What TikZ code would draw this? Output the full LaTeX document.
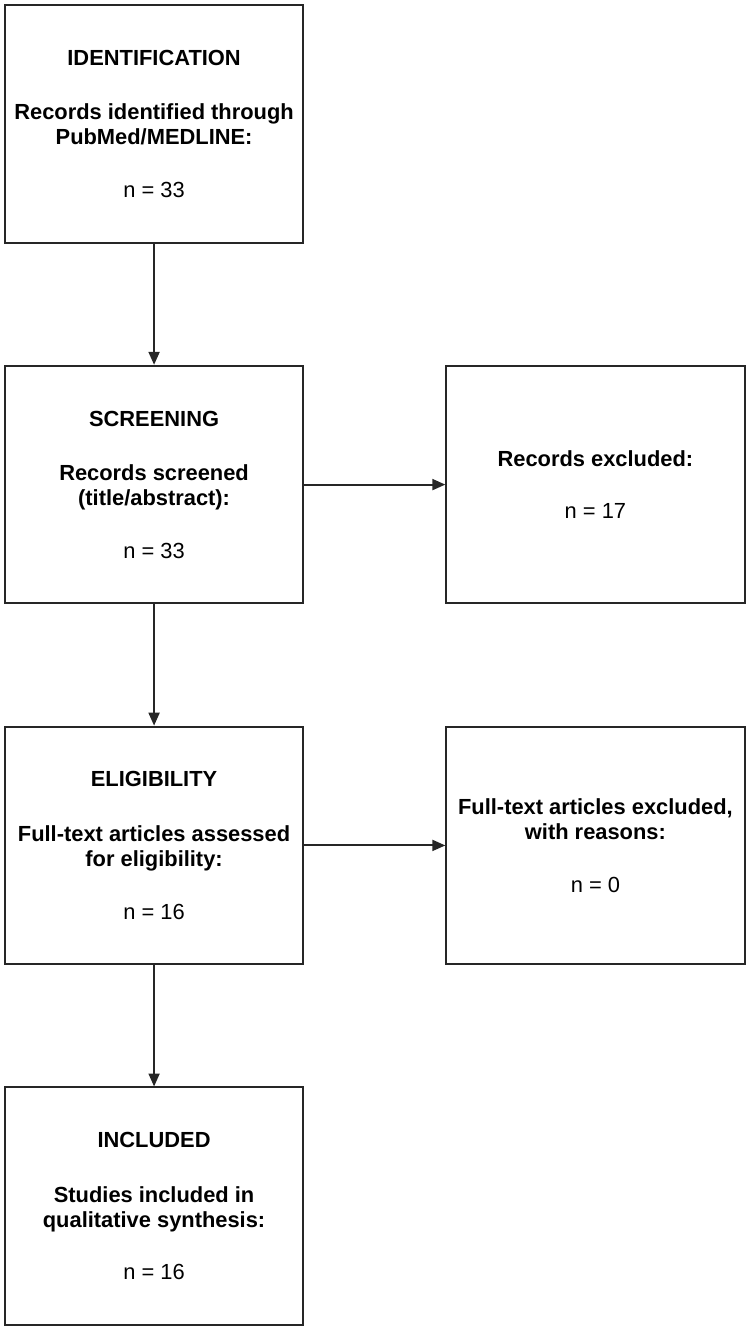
\documentclass[tikz,border=0pt]{standalone}
\usepackage{fontspec}
\setmainfont{Liberation Sans}
\usepackage{tikz}
\usetikzlibrary{arrows.meta, positioning, calc}

\begin{document}
\begin{tikzpicture}[
  node distance=122pt and 142pt,
  pbox/.style={rectangle, draw=black!85, line width=2pt, fill=white,
             minimum width=300pt, minimum height=239pt, inner sep=0pt,
             font=\fontsize{22}{25}\selectfont\bfseries, align=center},
  arr/.style={-{Triangle[length=13pt, width=11pt]}, line width=2pt, color=black!85}
]
\node[pbox] (ident) {IDENTIFICATION\\[30pt]Records identified through\\PubMed/MEDLINE:\\[28pt]\mdseries n = 33};
\node[pbox, below=of ident] (screen) {SCREENING\\[30pt]Records screened\\(title/abstract):\\[28pt]\mdseries n = 33};
\node[pbox, right=of screen] (recex) {Records excluded:\\[28pt]\mdseries n = 17};
\node[pbox, below=of screen] (elig) {ELIGIBILITY\\[30pt]Full-text articles assessed\\for eligibility:\\[28pt]\mdseries n = 16};
\node[pbox, right=of elig] (ftex) {Full-text articles excluded,\\with reasons:\\[28pt]\mdseries n = 0};
\node[pbox, below=of elig] (incl) {INCLUDED\\[30pt]Studies included in\\qualitative synthesis:\\[28pt]\mdseries n = 16};

\draw[arr] (ident)--(screen); \draw[arr] (screen)--(elig);
\draw[arr] (elig)--(incl);
\draw[arr] (screen)--(recex); \draw[arr] (elig)--(ftex);

\useasboundingbox ($(ident.north west)+(-4pt,4pt)$) rectangle ($(incl.south -| recex.east)+(4pt,-7pt)$);
\end{tikzpicture}
\end{document}
